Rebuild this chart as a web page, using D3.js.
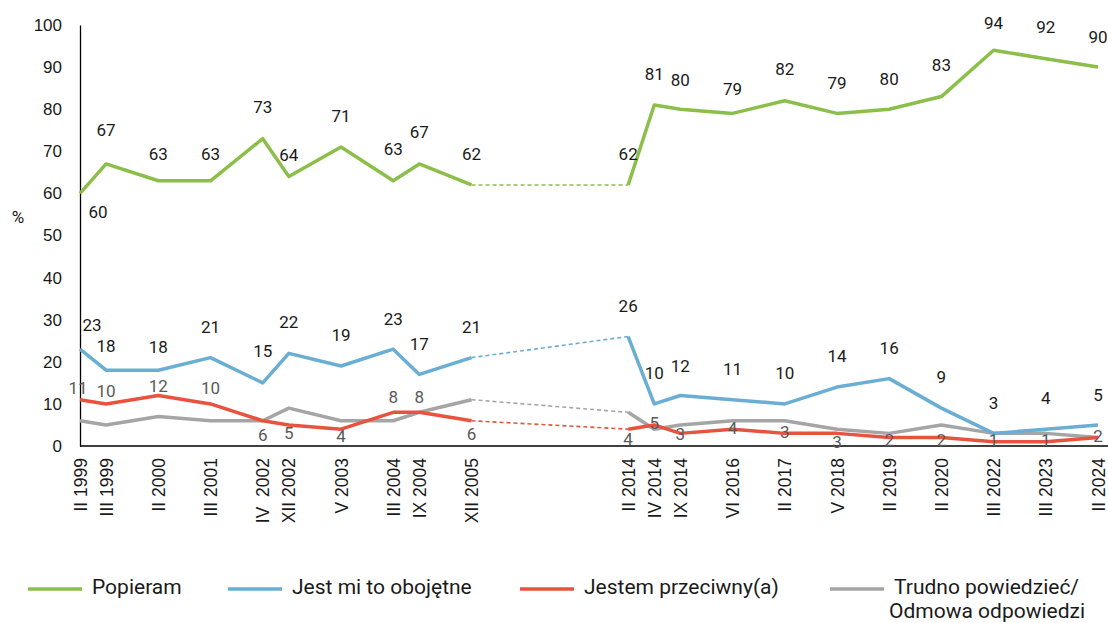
<meta charset="utf-8">
<style>
body { margin: 0; background: #fff; font-family: Roboto, "Noto Sans", Arial, sans-serif; }
.tick text { font-size: 17px; fill: #1a1a1a; }
.lbl { font-size: 17px; }
.legend text { font-size: 21px; fill: #1a1a1a; }
</style>
<body>
<script src="https://cdn.jsdelivr.net/npm/d3@7"></script>
<script>

var width = 1108, height = 623;

// category labels and their slot on the 40-slot category axis (blank slots between)
var periods = ["II 1999","III 1999","II 2000","III 2001","IV  2002","XII 2002","V 2003","III 2004","IX 2004","XII 2005",
               "II 2014","IV 2014","IX 2014","VI 2016","II 2017","V 2018","II 2019","II 2020","III 2022","III 2023","II 2024"];
var slots = [0,1,3,5,7,8,10,12,13,15,21,22,23,25,27,29,31,33,35,37,39];

var popieram   = [60,67,63,63,73,64,71,63,67,62,62,81,80,79,82,79,80,83,94,92,90];
var obojetne   = [23,18,18,21,15,22,19,23,17,21,26,10,12,11,10,14,16,9,3,4,5];
var przeciwny  = [11,10,12,10,6,5,4,8,8,6,4,5,3,4,3,3,2,2,1,1,2];
var trudno     = [6,5,7,6,6,9,6,6,8,11,8,4,5,6,6,4,3,5,3,3,2];

var yTicks = [0,10,20,30,40,50,60,70,80,90,100];
var gapAfter = 9; // dashed link between XII 2005 and II 2014

// label offsets (vertical, px) as placed in the original
var greenDy = [20,-32,-25,-25,-30,-20,-30,-30,-30,-29,-29,-29,-28,-23,-30,-29,-29,-30,-26,-30,-29];
var blueDy  = [-23,-23,-22,-29,-30,-30,-29,-29,-29,-29,-29,-29,-28,-29,-29,-30,-29,-30,-29,-30,-28];
var redDy   = [-10,-11,-8,-14,16,10,8,-14,-14,15,11,0,2,0,0,10,4,4,0,0,0];

var series = [
  {name:"Popieram", values:popieram, color:"#8cbf4a", label:"#1a1a1a", dy:greenDy},
  {name:"Jest mi to obojętne", values:obojetne, color:"#6aaed3", label:"#1a1a1a", dy:blueDy},
  {name:"Jestem przeciwny(a)", values:przeciwny, color:"#e8533f", label:"#595959", dy:redDy},
  {name:"Trudno powiedzieć/|Odmowa odpowiedzi", values:trudno, color:"#a5a5a5", label:null, dy:null}
];

var x = d3.scaleLinear().domain([0,39]).range([80,1098]);
var y = d3.scaleLinear().domain([0,100]).range([446,25]);

var svg = d3.select("body").append("svg")
    .attr("width", width)
    .attr("height", height);

// y axis
var yAxis = svg.append("g")
    .attr("transform","translate(80,0)")
    .call(d3.axisLeft(y).tickValues(yTicks).tickSize(0).tickSizeOuter(0).tickPadding(18));
yAxis.select(".domain").attr("stroke","#000").attr("stroke-width",1.3);

// x axis
var xAxis = svg.append("g")
    .attr("transform","translate(0,446)")
    .call(d3.axisBottom(x).tickValues(slots).tickSize(0)
      .tickFormat(function(d){ return periods[slots.indexOf(d)]; }));
xAxis.select(".domain").remove();
xAxis.append("line")
    .attr("x1",80).attr("x2",width).attr("y1",0).attr("y2",0)
    .attr("stroke","#000").attr("stroke-width",1.3);
xAxis.selectAll(".tick text")
    .attr("transform","rotate(-90)")
    .attr("text-anchor","end")
    .attr("x",-12)
    .attr("y",0)
    .attr("dy","0.35em")
    .style("font-size","17.5px")
    .style("white-space","pre");

svg.append("text")
    .attr("x",18).attr("y",219)
    .attr("text-anchor","middle")
    .attr("dominant-baseline","middle")
    .style("font-size","17px").style("fill","#1a1a1a")
    .text("%");

var line = d3.line()
    .x(function(d){ return x(d.s); })
    .y(function(d){ return y(d.v); });

// draw series back to front: gray, red, blue, green
series.slice().reverse().forEach(function(s){
  var pts = s.values.map(function(v,i){ return {s:slots[i], v:v}; });
  var first = pts.slice(0, gapAfter+1), second = pts.slice(gapAfter+1);
  var link = [pts[gapAfter], pts[gapAfter+1]];

  [first, second].forEach(function(part){
    svg.append("path")
      .datum(part)
      .attr("d", line)
      .attr("fill","none")
      .attr("stroke", s.color)
      .attr("stroke-width",3.5)
      .attr("stroke-linejoin","round");
  });
  svg.append("path")
    .datum(link)
    .attr("d", line)
    .attr("fill","none")
    .attr("stroke", s.color)
    .attr("stroke-width",1.6)
    .attr("stroke-dasharray","4,3");
});

// data labels
series.forEach(function(s, k){
  if (!s.label) return;
  svg.append("g").selectAll("text")
    .data(s.values)
    .enter().append("text")
      .attr("class","lbl")
      .attr("x", function(d,i){
        var dx = 0;
        if (i == 0 && k == 0) dx = 18;
        if (i == 0 && k == 1) dx = 12;
        if (i == 0 && k == 2) dx = -2;
        return x(slots[i]) + dx;
      })
      .attr("y", function(d,i){ return y(d) + s.dy[i]; })
      .attr("text-anchor","middle")
      .attr("dominant-baseline","middle")
      .style("fill", s.label)
      .text(function(d){ return d; });
});

// legend
var legendX = [28, 228, 520, 830];
var legend = svg.append("g").attr("class","legend");
series.forEach(function(s, i){
  var g = legend.append("g").attr("transform","translate(" + legendX[i] + ",588)");
  g.append("line")
    .attr("x1",0).attr("x2",54).attr("y1",1).attr("y2",1)
    .attr("stroke", s.color).attr("stroke-width",3.5);
  var parts = s.name.split("|");
  parts.forEach(function(p, j){
    g.append("text")
      .attr("x", j == 0 ? 64 : 59)
      .attr("y", j * 24)
      .attr("dominant-baseline","middle")
      .text(p);
  });
});

</script>
</body>
